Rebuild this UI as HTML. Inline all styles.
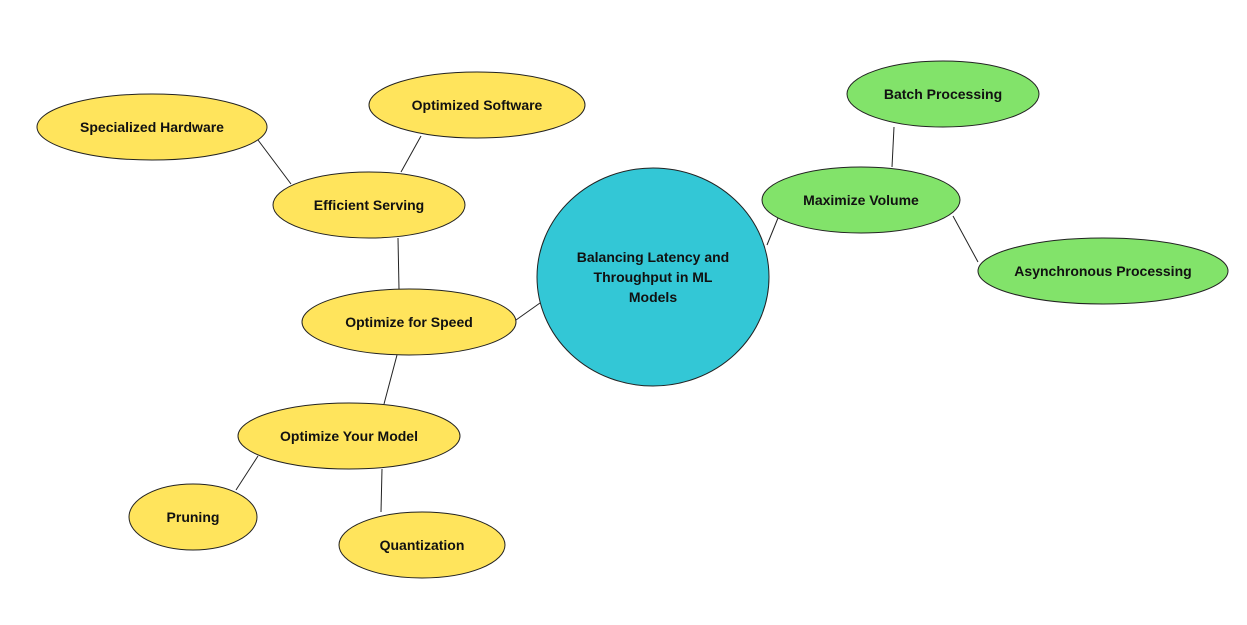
<!DOCTYPE html>
<html><head><meta charset="utf-8"><style>
html,body{margin:0;padding:0;background:#fff;}
svg text{font-family:"Liberation Sans",sans-serif;font-weight:bold;font-size:14px;fill:#111;text-anchor:middle;dominant-baseline:central;}
</style></head><body>
<svg width="1247" height="620" viewBox="0 0 1247 620" xmlns="http://www.w3.org/2000/svg">
<g stroke="#222" stroke-width="1" fill="none">
<line x1="258" y1="140" x2="291" y2="184"/>
<line x1="421" y1="136" x2="401" y2="172"/>
<line x1="398" y1="238" x2="399" y2="289"/>
<line x1="516" y1="320" x2="540" y2="303"/>
<line x1="397" y1="355" x2="384" y2="404"/>
<line x1="258" y1="456" x2="236" y2="490"/>
<line x1="382" y1="469" x2="381" y2="512"/>
<line x1="767" y1="245" x2="778" y2="218"/>
<line x1="894" y1="127" x2="892" y2="167"/>
<line x1="953" y1="216" x2="978" y2="262"/>
</g>
<g stroke="#222" stroke-width="1">
<ellipse cx="152" cy="127" rx="115" ry="33" fill="#FFE45C"/>
<ellipse cx="477" cy="105" rx="108" ry="33" fill="#FFE45C"/>
<ellipse cx="369" cy="205" rx="96" ry="33" fill="#FFE45C"/>
<ellipse cx="409" cy="322" rx="107" ry="33" fill="#FFE45C"/>
<ellipse cx="349" cy="436" rx="111" ry="33" fill="#FFE45C"/>
<ellipse cx="193" cy="517" rx="64" ry="33" fill="#FFE45C"/>
<ellipse cx="422" cy="545" rx="83" ry="33" fill="#FFE45C"/>
<ellipse cx="653" cy="277" rx="116" ry="109" fill="#33C7D6"/>
<ellipse cx="861" cy="200" rx="99" ry="33" fill="#82E36A"/>
<ellipse cx="943" cy="94" rx="96" ry="33" fill="#82E36A"/>
<ellipse cx="1103" cy="271" rx="125" ry="33" fill="#82E36A"/>
</g>
<text x="152" y="127">Specialized Hardware</text>
<text x="477" y="105">Optimized Software</text>
<text x="369" y="205">Efficient Serving</text>
<text x="409" y="322">Optimize for Speed</text>
<text x="349" y="436">Optimize Your Model</text>
<text x="193" y="517">Pruning</text>
<text x="422" y="545">Quantization</text>
<text x="653" y="257">Balancing Latency and</text>
<text x="653" y="277">Throughput in ML</text>
<text x="653" y="297">Models</text>
<text x="861" y="200">Maximize Volume</text>
<text x="943" y="94">Batch Processing</text>
<text x="1103" y="271">Asynchronous Processing</text>
</svg>
</body></html>
